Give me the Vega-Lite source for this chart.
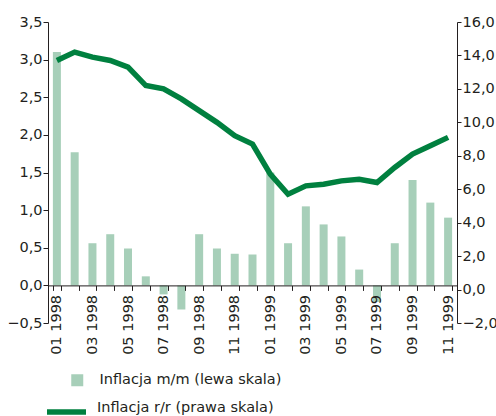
{
  "$schema": "https://vega.github.io/schema/vega-lite/v6.json",
  "autosize": "none",
  "width": 409,
  "height": 301,
  "padding": {"left": 48, "top": 22, "right": 39, "bottom": 93},
  "background": "white",
  "config": {
    "view": {"stroke": null},
    "font": "DejaVu Sans",
    "axis": {
      "labelFont": "DejaVu Sans",
      "labelFontSize": 14.5,
      "labelColor": "#231f20",
      "domainColor": "#231f20",
      "tickColor": "#231f20",
      "domainWidth": 1,
      "tickWidth": 1,
      "grid": false,
      "title": null
    },
    "legend": {"labelFont": "DejaVu Sans", "labelFontSize": 14.5, "labelColor": "#231f20", "padding": 0, "labelLimit": 0}
  },
  "data": {
    "values": [
      {"month": "01 1998", "mm": 3.1, "rr": 13.7},
      {"month": "02 1998", "mm": 1.77, "rr": 14.2},
      {"month": "03 1998", "mm": 0.56, "rr": 13.9},
      {"month": "04 1998", "mm": 0.68, "rr": 13.7},
      {"month": "05 1998", "mm": 0.49, "rr": 13.3},
      {"month": "06 1998", "mm": 0.12, "rr": 12.2},
      {"month": "07 1998", "mm": -0.12, "rr": 12.0},
      {"month": "08 1998", "mm": -0.32, "rr": 11.4},
      {"month": "09 1998", "mm": 0.68, "rr": 10.7},
      {"month": "10 1998", "mm": 0.49, "rr": 10.0},
      {"month": "11 1998", "mm": 0.42, "rr": 9.2},
      {"month": "12 1998", "mm": 0.41, "rr": 8.7},
      {"month": "01 1999", "mm": 1.5, "rr": 6.9},
      {"month": "02 1999", "mm": 0.56, "rr": 5.7},
      {"month": "03 1999", "mm": 1.05, "rr": 6.2},
      {"month": "04 1999", "mm": 0.81, "rr": 6.3},
      {"month": "05 1999", "mm": 0.65, "rr": 6.5},
      {"month": "06 1999", "mm": 0.21, "rr": 6.6},
      {"month": "07 1999", "mm": -0.22, "rr": 6.4},
      {"month": "08 1999", "mm": 0.56, "rr": 7.3},
      {"month": "09 1999", "mm": 1.4, "rr": 8.1},
      {"month": "10 1999", "mm": 1.1, "rr": 8.6},
      {"month": "11 1999", "mm": 0.9, "rr": 9.1}
    ]
  },
  "encoding": {
    "x": {
      "field": "month",
      "type": "ordinal",
      "sort": null,
      "scale": {"type": "band", "paddingInner": 0.55, "paddingOuter": 0.275},
      "axis": {
        "labelAngle": -90,
        "offset": -37.6,
        "tickBand": "extent",
        "tickSize": 5,
        "labelPadding": 4,
        "zindex": 1,
        "labelExpr": "toNumber(slice(datum.label, 0, 2)) % 2 == 1 ? datum.label : ''"
      }
    }
  },
  "layer": [
    {
      "mark": {"type": "bar"},
      "encoding": {
        "y": {
          "field": "mm",
          "type": "quantitative",
          "scale": {"domain": [-0.5, 3.5], "nice": false, "zero": false},
          "axis": {
            "orient": "left",
            "values": [-0.5, 0, 0.5, 1, 1.5, 2, 2.5, 3, 3.5],
            "tickSize": 5,
            "labelPadding": 1,
            "labelExpr": "replace(format(datum.value, '.1f'), '.', ',')"
          }
        },
        "fill": {
          "datum": "Inflacja m/m (lewa skala)",
          "scale": {"range": ["#a7cfb9"]},
          "legend": {
            "orient": "none",
            "legendX": 22,
            "legendY": 351,
            "symbolType": "square",
            "symbolSize": 144,
            "symbolStrokeWidth": 0,
            "labelOffset": 15,
            "title": null
          }
        }
      }
    },
    {
      "mark": {"type": "line", "strokeWidth": 5.5},
      "encoding": {
        "y": {
          "field": "rr",
          "type": "quantitative",
          "scale": {"domain": [-2, 16], "nice": false, "zero": false},
          "axis": {
            "orient": "right",
            "values": [-2, 0, 2, 4, 6, 8, 10, 12, 14, 16],
            "tickSize": 4,
            "labelPadding": 1,
            "labelExpr": "replace(format(datum.value, '.1f'), '.', ',')"
          }
        },
        "stroke": {
          "datum": "Inflacja r/r (prawa skala)",
          "scale": {"range": ["#00803f"]},
          "legend": {
            "orient": "none",
            "legendX": -4,
            "legendY": 367.5,
            "symbolType": "stroke",
            "symbolSize": 1521,
            "symbolStrokeWidth": 5.5,
            "labelOffset": 8,
            "labelBaseline": "alphabetic",
            "title": null
          }
        }
      }
    }
  ],
  "resolve": {"scale": {"y": "independent"}}
}
